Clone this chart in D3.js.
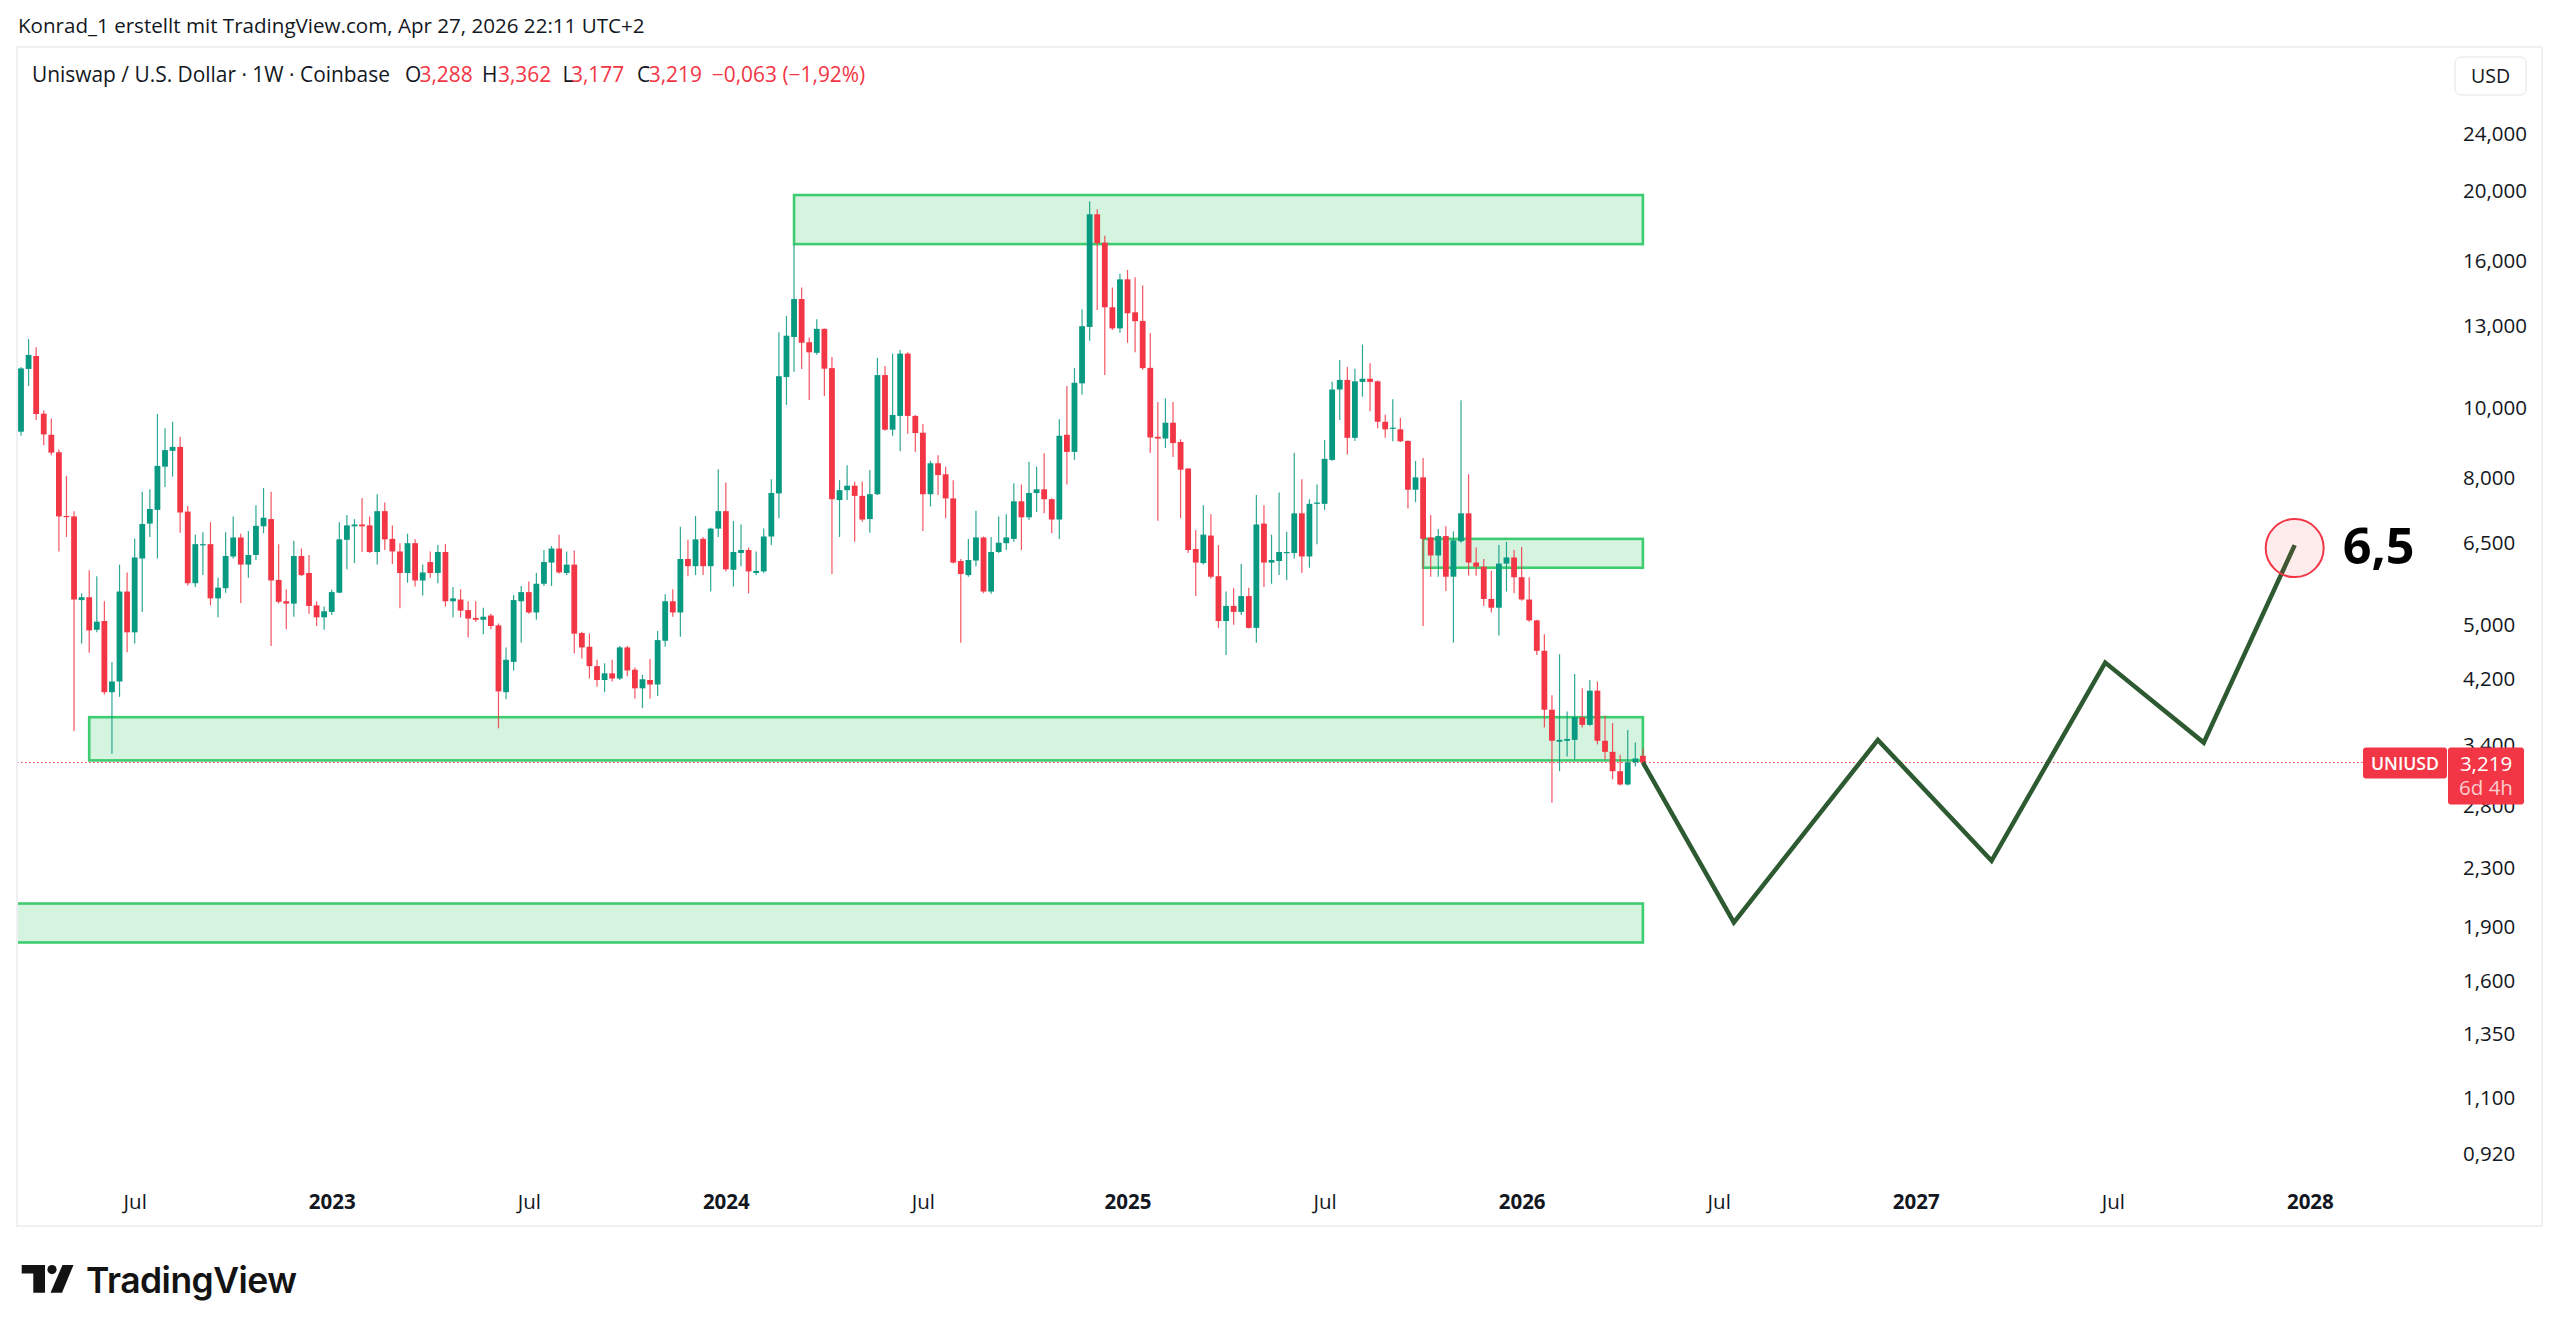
<!DOCTYPE html>
<html><head><meta charset="utf-8">
<script src="https://cdn.jsdelivr.net/npm/d3@7/dist/d3.min.js"></script>
<style>html,body{margin:0;padding:0;background:#fff;overflow:hidden}</style>
</head><body>
<svg id="chart" width="2560" height="1333" xmlns="http://www.w3.org/2000/svg"></svg>
<script>
// ---------- DATA (weekly UNI/USD, Coinbase) ----------
const firstWeek = "2022-03-21";
const open  = [9.27,11.33,11.81,9.82,9.18,8.68,7.08,7.07,5.41,5.46,4.92,5.06,4.03,4.17,5.56,4.88,6.18,6.91,7.22,8.29,8.72,8.83,7.18,5.71,6.45,6.47,5.44,5.62,6.22,6.61,6.06,6.25,6.85,7.01,5.77,5.39,5.35,6.23,5.90,5.32,5.12,5.21,5.54,6.56,6.85,6.89,6.87,6.31,7.19,6.58,6.32,5.90,6.49,5.76,6.11,5.90,6.31,5.39,5.42,5.24,5.11,5.08,5.15,4.99,4.03,4.44,5.39,5.55,5.20,5.70,6.10,6.38,5.90,6.06,4.87,4.66,4.38,4.19,4.28,4.21,4.65,4.33,4.08,4.19,4.13,4.75,5.39,5.20,6.17,6.03,6.58,6.03,6.80,7.19,5.96,6.29,6.35,5.90,5.93,6.63,7.61,11.04,12.55,14.17,12.34,11.93,12.88,11.36,7.45,7.69,7.80,7.55,7.01,7.59,11.11,9.33,9.75,11.90,9.75,9.24,7.59,8.38,8.09,7.49,6.13,5.86,6.14,6.61,5.56,6.31,6.49,6.58,7.42,7.05,7.62,7.71,7.47,7.00,9.18,8.69,10.82,12.96,18.58,16.97,13.80,12.90,15.09,13.58,13.21,11.37,9.12,9.07,9.54,8.97,8.24,6.37,6.09,6.65,5.84,5.06,5.31,5.21,5.48,4.95,6.91,6.10,6.13,6.30,6.29,7.14,6.22,7.36,7.36,8.47,10.61,10.94,9.09,10.87,10.98,10.89,9.57,9.36,9.34,9.00,7.70,8.01,6.61,6.24,6.64,5.83,6.53,7.14,6.10,6.02,5.43,5.28,6.08,6.20,5.82,5.42,5.07,4.60,3.81,3.44,3.45,3.46,3.72,3.63,4.05,3.45,3.33,3.13,3.00,3.22,3.288];
const high  = [11.40,12.47,12.14,9.92,9.67,8.76,8.05,7.19,5.53,5.95,5.84,5.39,4.44,6.06,5.91,6.59,7.65,7.71,9.81,9.37,9.57,9.12,7.31,6.67,6.72,6.94,5.81,6.72,7.07,6.69,6.75,7.33,7.74,7.65,6.47,5.60,6.54,6.38,6.25,5.39,5.30,5.59,6.94,7.10,7.01,7.50,7.07,7.59,7.39,6.87,6.49,6.69,6.57,6.06,6.32,6.45,6.47,5.64,5.60,5.39,5.39,5.28,5.18,5.02,4.65,5.50,5.66,5.74,5.90,6.35,6.43,6.67,6.32,6.34,4.89,4.86,4.47,4.42,4.47,4.67,4.67,4.36,4.26,4.48,4.90,5.51,5.60,6.84,6.56,7.08,6.62,6.82,8.22,7.88,6.97,6.89,6.40,6.32,6.80,7.96,12.74,13.42,16.90,14.70,12.53,13.28,12.90,11.77,7.94,8.33,7.90,7.90,8.20,11.74,11.44,11.90,12.04,11.95,9.78,9.50,8.45,8.60,8.29,7.94,6.17,6.58,7.20,6.63,6.62,7.07,7.12,7.86,7.83,8.42,8.29,8.65,7.49,9.65,10.73,11.37,13.71,19.36,18.88,17.35,14.70,15.36,15.55,15.19,14.80,12.71,10.19,10.31,10.19,9.05,8.25,6.77,7.33,7.12,6.45,5.56,5.62,6.07,5.63,7.57,7.33,6.67,7.63,6.73,8.67,7.96,7.47,7.83,9.03,10.88,11.66,11.40,11.34,12.25,11.54,10.92,9.79,10.28,9.69,9.02,8.44,8.52,7.10,6.79,6.85,6.74,10.25,8.09,6.40,6.17,5.94,6.45,6.52,6.35,6.41,5.82,5.08,4.85,3.99,4.55,3.79,4.27,4.08,4.19,4.17,3.74,3.65,3.30,3.57,3.43,3.362];
const low   = [9.15,10.73,9.62,8.88,8.60,6.32,6.62,3.56,4.71,4.57,4.88,4.00,3.31,3.97,4.58,4.71,5.21,6.62,6.18,7.77,8.03,6.71,5.67,5.64,5.86,5.32,5.12,5.54,6.18,5.36,5.81,6.15,6.70,4.67,5.35,4.93,5.13,5.84,5.18,4.98,4.92,5.16,5.53,5.97,6.09,6.31,6.29,6.06,6.35,6.07,5.27,5.72,5.65,5.49,5.81,5.71,5.30,5.12,5.12,4.80,5.05,4.85,4.93,3.59,3.94,4.32,4.72,5.18,5.08,5.66,5.66,5.89,5.86,4.56,4.49,4.21,4.10,4.03,4.17,4.19,4.24,3.95,3.83,3.95,3.98,4.66,5.13,4.81,5.84,5.86,5.86,5.56,6.62,5.93,5.65,6.03,5.53,5.86,5.90,6.45,7.03,10.10,11.23,11.33,10.26,11.86,10.39,5.88,6.62,7.45,6.52,6.95,6.71,7.57,9.30,9.15,8.71,9.21,8.69,6.75,7.30,7.57,7.03,6.08,4.72,5.83,6.03,5.53,5.52,6.29,6.35,6.52,6.35,6.99,7.17,7.14,6.70,6.58,7.83,8.47,10.43,12.40,13.68,11.11,12.83,12.72,12.32,11.95,11.30,8.67,6.97,8.80,8.55,7.03,6.29,5.48,6.06,5.79,4.95,4.54,5.00,5.16,4.94,4.72,5.64,5.70,5.86,5.77,6.18,5.90,6.00,6.47,7.22,8.45,9.62,8.62,9.00,10.37,9.90,9.37,9.09,8.99,8.97,7.25,7.40,4.98,5.83,5.83,5.57,4.72,6.50,5.85,5.85,5.31,5.20,4.83,5.56,5.53,5.40,5.05,4.54,3.60,2.83,3.13,3.28,3.25,3.60,3.62,3.41,3.25,3.05,2.99,2.99,3.18,3.177];
const close = [11.35,11.85,9.81,9.19,8.67,7.07,7.06,5.42,5.46,4.91,5.05,4.03,4.17,5.56,4.88,6.20,6.90,7.24,8.31,8.74,8.83,7.16,5.71,6.47,6.47,5.44,5.63,6.23,6.61,6.06,6.25,6.86,7.04,5.76,5.38,5.35,6.23,5.86,5.31,5.12,5.22,5.55,6.57,6.87,6.89,6.85,6.31,7.19,6.57,6.32,5.90,6.49,5.76,5.91,5.90,6.31,5.39,5.44,5.23,5.10,5.08,5.13,4.98,4.04,4.47,5.41,5.55,5.20,5.70,6.11,6.38,5.91,6.06,4.86,4.65,4.38,4.19,4.28,4.21,4.65,4.32,4.08,4.20,4.13,4.76,5.39,5.20,6.17,6.03,6.57,6.03,6.80,7.19,5.97,6.31,6.35,5.93,5.94,6.63,7.62,11.07,12.60,14.17,12.32,11.95,12.88,11.34,7.47,7.69,7.80,7.55,7.00,7.59,11.11,9.33,9.78,11.90,9.75,9.23,7.59,8.38,8.07,7.49,6.10,5.88,6.15,6.61,5.56,6.31,6.50,6.61,7.42,7.05,7.62,7.71,7.47,7.00,9.15,8.69,10.84,12.99,18.58,16.94,13.80,12.90,15.09,13.54,13.20,11.36,9.10,9.07,9.54,8.94,8.21,6.35,6.10,6.67,5.83,5.06,5.31,5.21,5.48,4.95,6.89,6.10,6.15,6.31,6.31,7.14,6.22,7.36,7.39,8.50,10.61,10.94,9.09,10.89,10.98,10.87,9.57,9.34,9.39,8.99,7.70,8.01,6.58,6.24,6.64,5.83,6.55,7.14,6.10,6.02,5.43,5.28,6.08,6.20,5.82,5.42,5.07,4.60,3.81,3.45,3.46,3.47,3.72,3.63,4.05,3.45,3.33,3.13,3.00,3.22,3.26,3.219];

// horizontal zones drawn on the chart
const zoneFrom   = ["2024-03-04","2025-10-06","2022-05-23","2021-12-06"];
const zoneTo     = ["2026-04-27","2026-04-27","2026-04-27","2026-04-27"];
const zoneTop    = [19.76, 6.58, 3.72, 2.05];
const zoneBottom = [16.89, 6.00, 3.24, 1.81];

// projected path
const forecastDates  = ["2026-04-27","2026-07-20","2026-11-30","2027-03-15","2027-06-28","2027-09-27","2027-12-20"];
const forecastValues = [3.219, 1.93, 3.46, 2.35, 4.43, 3.43, 6.45];
const targetLabel = "6,5";

// axes
const yTickValues = [24,20,16,13,10,8,6.5,5,4.2,3.4,2.8,2.3,1.9,1.6,1.35,1.1,0.92];
const yTickLabels = ["24,000","20,000","16,000","13,000","10,000","8,000","6,500","5,000","4,200","3,400","2,800","2,300","1,900","1,600","1,350","1,100","0,920"];
const xTickDates  = ["2022-07-04","2023-01-02","2023-07-03","2024-01-01","2024-07-01","2025-01-06","2025-07-07","2026-01-05","2026-07-06","2027-01-04","2027-07-05","2028-01-03"];
const xTickLabels = ["Jul","2023","Jul","2024","Jul","2025","Jul","2026","Jul","2027","Jul","2028"];

const lastPrice = 3.219;
const titleText = "Konrad_1 erstellt mit TradingView.com, Apr 27, 2026 22:11 UTC+2";
const symbolText = "Uniswap / U.S. Dollar \u00b7 1W \u00b7 Coinbase";
const ohlcLetters = ["O","H","L","C"];
const ohlcValues = ["3,288","3,362","3,177","3,219"];
const changeText = "\u22120,063 (\u22121,92%)";

// ---------- LAYOUT ----------
const FONT = "'Open Sans', 'DejaVu Sans', sans-serif";
const UP = "#089981", DOWN = "#f23645", TXT = "#131722";
const parse = d3.utcParse("%Y-%m-%d");
const start = parse(firstWeek);
const dates = open.map((_, i) => d3.utcDay.offset(start, 7 * i));

const pane = {left: 17, right: 2444, top: 47, bottom: 1180};

const x = d3.scaleUtc().domain([start, dates[dates.length - 1]]).range([21, 1642.9]);
const y = d3.scaleLog().domain([0.92, 24]).range([1154.07, 134.25]);

const svg = d3.select("#chart");
svg.append("rect").attr("width", 2560).attr("height", 1333).attr("fill", "#fff");

function fit(sel, w) {
  const n = sel.node();
  const cur = n.getComputedTextLength();
  const fs = parseFloat(sel.attr("font-size"));
  if (cur > 0) sel.attr("font-size", (fs * w / cur).toFixed(2));
  return parseFloat(sel.attr("font-size"));
}

// title
const title = svg.append("text").attr("x", 18).attr("y", 33).attr("font-family", FONT)
  .attr("font-size", 18).attr("fill", TXT).text(titleText);
fit(title, 627);

// container border
svg.append("rect").attr("x", 17).attr("y", 47).attr("width", 2525).attr("height", 1179)
  .attr("fill", "none").attr("stroke", "#eef0f3").attr("stroke-width", 2);

const defs = svg.append("defs");
defs.append("clipPath").attr("id", "paneClip").append("rect")
  .attr("x", pane.left + 1).attr("y", pane.top + 1)
  .attr("width", pane.right - pane.left - 1).attr("height", pane.bottom - pane.top - 1);

const plot = svg.append("g").attr("clip-path", "url(#paneClip)");

// zones
const zoneG = plot.append("g");
zoneFrom.forEach((f, i) => {
  const x0 = x(parse(f)), x1 = x(parse(zoneTo[i]));
  const y0 = y(zoneTop[i]), y1 = y(zoneBottom[i]);
  zoneG.append("rect").attr("x", x0).attr("y", y0).attr("width", x1 - x0).attr("height", y1 - y0)
    .attr("fill", "rgba(60,207,110,0.22)").attr("stroke", "#3dcc70").attr("stroke-width", 2.6);
});

// last price dotted line
plot.append("line").attr("x1", pane.left).attr("x2", pane.right + 10)
  .attr("y1", y(lastPrice)).attr("y2", y(lastPrice))
  .attr("stroke", DOWN).attr("stroke-width", 1).attr("stroke-dasharray", "1.5,2.5");

// candles
const cg = plot.append("g");
const bw = 5.8;
dates.forEach((d, i) => {
  const up = close[i] >= open[i];
  const col = up ? UP : DOWN;
  const cx = x(d);
  cg.append("line").attr("x1", cx).attr("x2", cx).attr("y1", y(high[i])).attr("y2", y(low[i]))
    .attr("stroke", col).attr("stroke-width", 1.2).attr("stroke-opacity", 0.85);
  const yt = y(Math.max(open[i], close[i])), yb = y(Math.min(open[i], close[i]));
  cg.append("rect").attr("x", cx - bw / 2).attr("y", yt).attr("width", bw)
    .attr("height", Math.max(1.2, yb - yt)).attr("fill", col);
});

// forecast path
const fPts = forecastDates.map((d, i) => [x(parse(d)), y(forecastValues[i])]);
plot.append("path").attr("d", d3.line()(fPts)).attr("fill", "none")
  .attr("stroke", "#2d5a30").attr("stroke-width", 4.5).attr("stroke-linejoin", "miter")
  .attr("stroke-linecap", "butt");

const endPt = fPts[fPts.length - 1];
plot.append("circle").attr("cx", endPt[0]).attr("cy", endPt[1] + 3).attr("r", 29)
  .attr("fill", "rgba(242,54,69,0.10)").attr("stroke", "#f23645").attr("stroke-width", 2);
const tl = plot.append("text").attr("x", endPt[0] + 48).attr("y", endPt[1] + 19)
  .attr("font-family", FONT).attr("font-weight", 700).attr("font-size", 46)
  .attr("fill", "#000").text(targetLabel);
fit(tl, 72);

// y axis
const yAxis = d3.axisRight(y).tickValues(yTickValues).tickFormat((d, i) => yTickLabels[i])
  .tickSize(0).tickPadding(0);
const yg = svg.append("g").attr("transform", `translate(2463,0)`).call(yAxis);
yg.select(".domain").remove();
yg.selectAll("text").attr("font-family", FONT).attr("font-size", 18).attr("fill", TXT);
const yfs = fit(yg.selectAll("text").filter((d, i) => i === 0), 64);
yg.selectAll("text").attr("font-size", yfs);

// x axis
const xAxis = d3.axisBottom(x).tickValues(xTickDates.map(parse))
  .tickFormat((d, i) => xTickLabels[i]).tickSize(0).tickPadding(0);
const xg = svg.append("g").attr("transform", `translate(0,1202)`).call(xAxis);
xg.select(".domain").remove();
xg.selectAll("text").attr("font-family", FONT).attr("font-size", yfs).attr("fill", TXT)
  .attr("dy", "0.35em")
  .attr("font-weight", (d, i) => /^\d/.test(xTickLabels[i]) ? 700 : 400);

// header line with symbol + OHLC
const sym = svg.append("text").attr("x", 32).attr("y", 82).attr("font-family", FONT)
  .attr("font-size", 19).attr("fill", TXT).text(symbolText);
const hfs = fit(sym, 358);
const lettersX = [405, 482, 562.6, 637];
const valuesX = [419.5, 498, 571, 648.7];
ohlcLetters.forEach((l, i) => {
  svg.append("text").attr("x", lettersX[i]).attr("y", 82).attr("font-family", FONT)
    .attr("font-size", hfs).attr("fill", TXT).text(l);
  svg.append("text").attr("x", valuesX[i]).attr("y", 82).attr("font-family", FONT)
    .attr("font-size", hfs).attr("fill", DOWN).text(ohlcValues[i]);
});
svg.append("text").attr("x", 711.8).attr("y", 82).attr("font-family", FONT)
  .attr("font-size", hfs).attr("fill", DOWN).text(changeText);

// USD box
svg.append("rect").attr("x", 2455).attr("y", 57).attr("width", 71).attr("height", 38).attr("rx", 6)
  .attr("fill", "#fff").attr("stroke", "#e0e3eb").attr("stroke-width", 1);
svg.append("text").attr("x", 2490.5).attr("y", 76).attr("dy", "0.35em").attr("text-anchor", "middle")
  .attr("font-family", FONT).attr("font-size", yfs * 0.95).attr("fill", TXT).text("USD");

// last price labels
const ly = y(lastPrice);
svg.append("rect").attr("x", 2363).attr("y", ly - 15).attr("width", 84).attr("height", 31).attr("rx", 3)
  .attr("fill", DOWN);
const uni = svg.append("text").attr("x", 2405).attr("y", ly + 1).attr("dy", "0.35em").attr("text-anchor", "middle")
  .attr("font-family", FONT).attr("font-size", yfs).attr("font-weight", 600).attr("fill", "#fff").text("UNIUSD");
fit(uni, 68);
svg.append("rect").attr("x", 2448).attr("y", ly - 15).attr("width", 76).attr("height", 57).attr("rx", 3)
  .attr("fill", DOWN);
svg.append("text").attr("x", 2486).attr("y", ly + 1).attr("dy", "0.35em").attr("text-anchor", "middle")
  .attr("font-family", FONT).attr("font-size", yfs).attr("fill", "#fff").text("3,219");
svg.append("text").attr("x", 2486).attr("y", ly + 25).attr("dy", "0.35em").attr("text-anchor", "middle")
  .attr("font-family", FONT).attr("font-size", yfs).attr("fill", "#fff").attr("fill-opacity", 0.75).text("6d 4h");

// TradingView logo
const logo = svg.append("g").attr("fill", "#131313");
logo.append("path").attr("d", "M21.7,1265 L45,1265 L45,1292.7 L33.3,1292.7 L33.3,1273.6 L21.7,1273.6 Z");
logo.append("circle").attr("cx", 52).attr("cy", 1269.6).attr("r", 4.6);
logo.append("path").attr("d", "M62.5,1265 L73.5,1265 L62,1292.7 L50.5,1292.7 Z");
const tv = svg.append("text").attr("x", 86).attr("y", 1292.5).attr("font-family", "Inter, 'Open Sans', sans-serif")
  .attr("font-weight", 600).attr("font-size", 32).attr("fill", "#131313").attr("letter-spacing", -0.5).text("TradingView");
fit(tv, 210);
</script>
</body></html>
